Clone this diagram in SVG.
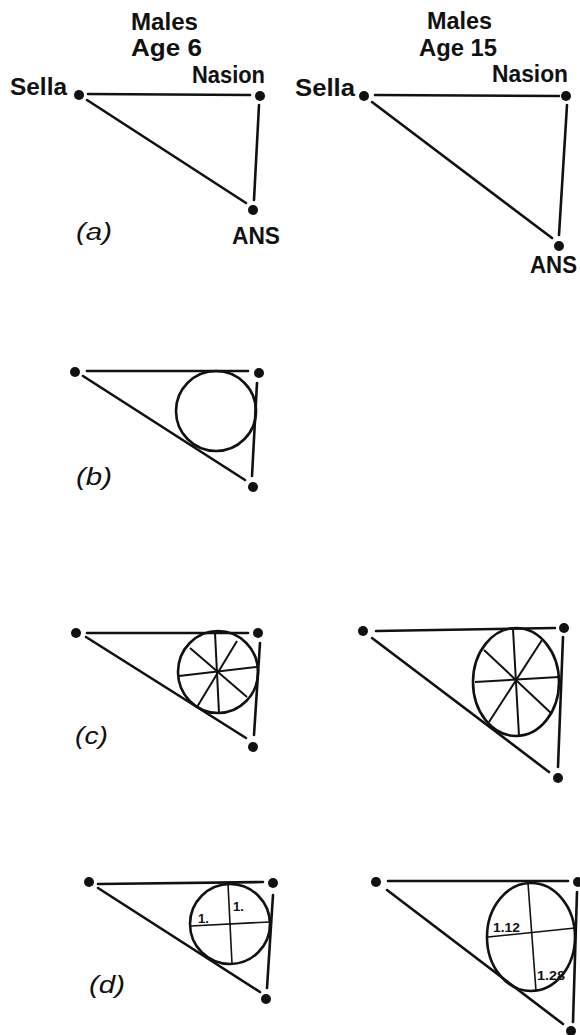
<svg xmlns="http://www.w3.org/2000/svg" width="580" height="1035" viewBox="0 0 580 1035">
<style>
.lbl{font-family:"Liberation Sans",Arial,sans-serif;font-weight:bold;font-size:23px;fill:#111}
.cap{font-family:"Liberation Sans",Arial,sans-serif;font-style:italic;font-size:23px;fill:#111}
.num{font-family:"Liberation Sans",Arial,sans-serif;font-weight:bold;font-size:13px;fill:#111}
.ln{stroke:#111;stroke-width:2.6;fill:none;stroke-linecap:round}
.cir{stroke:#111;stroke-width:2.6;fill:none}
.sp{stroke:#111;stroke-width:2;fill:none}
.cr{stroke:#111;stroke-width:1.6;fill:none}
.dot{fill:#111}
</style>
<rect width="580" height="1035" fill="#fff"/>

<g id="titles">
<text class="lbl" x="131" y="30" textLength="67" lengthAdjust="spacingAndGlyphs">Males</text>
<text class="lbl" x="131" y="56" textLength="71" lengthAdjust="spacingAndGlyphs">Age 6</text>
<text class="lbl" x="427" y="29" textLength="65" lengthAdjust="spacingAndGlyphs">Males</text>
<text class="lbl" x="419" y="56" textLength="78" lengthAdjust="spacingAndGlyphs">Age 15</text>
</g>

<g id="connectors">
<!-- a left -->
<line class="ln" x1="88" y1="94" x2="250" y2="95"/>
<line class="ln" x1="87" y1="100" x2="246" y2="203"/>
<line class="ln" x1="259" y1="105" x2="254" y2="200"/>
<!-- a right -->
<line class="ln" x1="375" y1="95" x2="559" y2="96"/>
<line class="ln" x1="372" y1="102" x2="552" y2="238"/>
<line class="ln" x1="567" y1="105" x2="559" y2="235"/>
<!-- b -->
<line class="ln" x1="87" y1="371" x2="248" y2="371"/>
<line class="ln" x1="83" y1="376" x2="245" y2="480"/>
<line class="ln" x1="257" y1="383" x2="252" y2="476"/>
<!-- c left -->
<line class="ln" x1="87" y1="633" x2="248" y2="633"/>
<line class="ln" x1="86" y1="637" x2="246" y2="738"/>
<line class="ln" x1="260" y1="643" x2="254" y2="735"/>
<!-- c right -->
<line class="ln" x1="376" y1="631" x2="555" y2="628"/>
<line class="ln" x1="372" y1="638" x2="549" y2="772"/>
<line class="ln" x1="563" y1="637" x2="558" y2="767"/>
<!-- d left -->
<line class="ln" x1="98" y1="884" x2="263" y2="882"/>
<line class="ln" x1="98" y1="888" x2="260" y2="992"/>
<line class="ln" x1="273" y1="895" x2="267" y2="988"/>
<!-- d right -->
<line class="ln" x1="388" y1="881" x2="568" y2="881"/>
<line class="ln" x1="387" y1="890" x2="563" y2="1024"/>
<line class="ln" x1="577" y1="892" x2="573" y2="1022"/>
</g>

<g id="panel-a-left">
<circle class="dot" cx="79" cy="95" r="5"/>
<circle class="dot" cx="260" cy="96" r="5"/>
<circle class="dot" cx="253" cy="210" r="5"/>
<text class="lbl" x="10" y="95" textLength="57" lengthAdjust="spacingAndGlyphs">Sella</text>
<text class="lbl" x="192" y="83" textLength="73" lengthAdjust="spacingAndGlyphs">Nasion</text>
<text class="lbl" x="232" y="244" textLength="48" lengthAdjust="spacingAndGlyphs">ANS</text>
<text class="cap" x="76" y="240" textLength="36" lengthAdjust="spacingAndGlyphs">(a)</text>
</g>

<g id="panel-a-right">
<circle class="dot" cx="364" cy="96" r="5"/>
<circle class="dot" cx="566" cy="96" r="5"/>
<circle class="dot" cx="559" cy="246" r="5"/>
<text class="lbl" x="295" y="96" textLength="60" lengthAdjust="spacingAndGlyphs">Sella</text>
<text class="lbl" x="492" y="82" textLength="76" lengthAdjust="spacingAndGlyphs">Nasion</text>
<text class="lbl" x="530" y="273" textLength="47" lengthAdjust="spacingAndGlyphs">ANS</text>
</g>

<g id="panel-b">
<circle class="dot" cx="75" cy="372" r="5"/>
<circle class="dot" cx="259" cy="373" r="5"/>
<circle class="dot" cx="253" cy="487" r="5"/>
<circle class="cir" cx="216" cy="411" r="40"/>
<text class="cap" x="76" y="485" textLength="36" lengthAdjust="spacingAndGlyphs">(b)</text>
</g>

<g id="panel-c-left">
<circle class="dot" cx="76" cy="633" r="5"/>
<circle class="dot" cx="258" cy="633" r="5"/>
<circle class="dot" cx="253" cy="747" r="5"/>
<ellipse class="cir" cx="218" cy="672" rx="40" ry="41"/>
<line class="sp" x1="215" y1="633" x2="219" y2="713"/>
<line class="sp" x1="179" y1="676" x2="257" y2="667"/>
<line class="sp" x1="190" y1="648" x2="247" y2="697"/>
<line class="sp" x1="237" y1="641" x2="197" y2="707"/>
<text class="cap" x="75" y="744" textLength="33" lengthAdjust="spacingAndGlyphs">(c)</text>
</g>

<g id="panel-c-right">
<circle class="dot" cx="363" cy="631" r="5"/>
<circle class="dot" cx="564" cy="628" r="5"/>
<circle class="dot" cx="558" cy="778" r="5"/>
<ellipse class="cir" cx="516" cy="682" rx="43" ry="54"/>
<line class="sp" x1="513" y1="629" x2="519" y2="736"/>
<line class="sp" x1="475" y1="682" x2="559" y2="677"/>
<line class="sp" x1="484" y1="650" x2="552" y2="714"/>
<line class="sp" x1="542" y1="640" x2="489" y2="722"/>
</g>

<g id="panel-d-left">
<circle class="dot" cx="89" cy="882" r="5"/>
<circle class="dot" cx="273" cy="883" r="5"/>
<circle class="dot" cx="266" cy="999" r="5"/>
<circle class="cir" cx="230" cy="924" r="40"/>
<line class="cr" x1="228" y1="884" x2="232" y2="964"/>
<line class="cr" x1="191" y1="926" x2="269" y2="922"/>
<text class="num" x="233" y="911">1.</text>
<text class="num" x="198" y="923">1.</text>
<text class="cap" x="89" y="993" textLength="36" lengthAdjust="spacingAndGlyphs">(d)</text>
</g>

<g id="panel-d-right">
<circle class="dot" cx="376" cy="882" r="5"/>
<circle class="dot" cx="578" cy="882" r="5"/>
<circle class="dot" cx="571" cy="1031" r="5"/>
<ellipse class="cir" cx="531" cy="937" rx="44" ry="54"/>
<line class="cr" x1="528" y1="883" x2="536" y2="991"/>
<line class="cr" x1="488" y1="937" x2="575" y2="928"/>
<text class="num" x="493" y="932" textLength="27" lengthAdjust="spacingAndGlyphs">1.12</text>
<text class="num" x="537" y="980" textLength="28" lengthAdjust="spacingAndGlyphs">1.28</text>
</g>
</svg>
